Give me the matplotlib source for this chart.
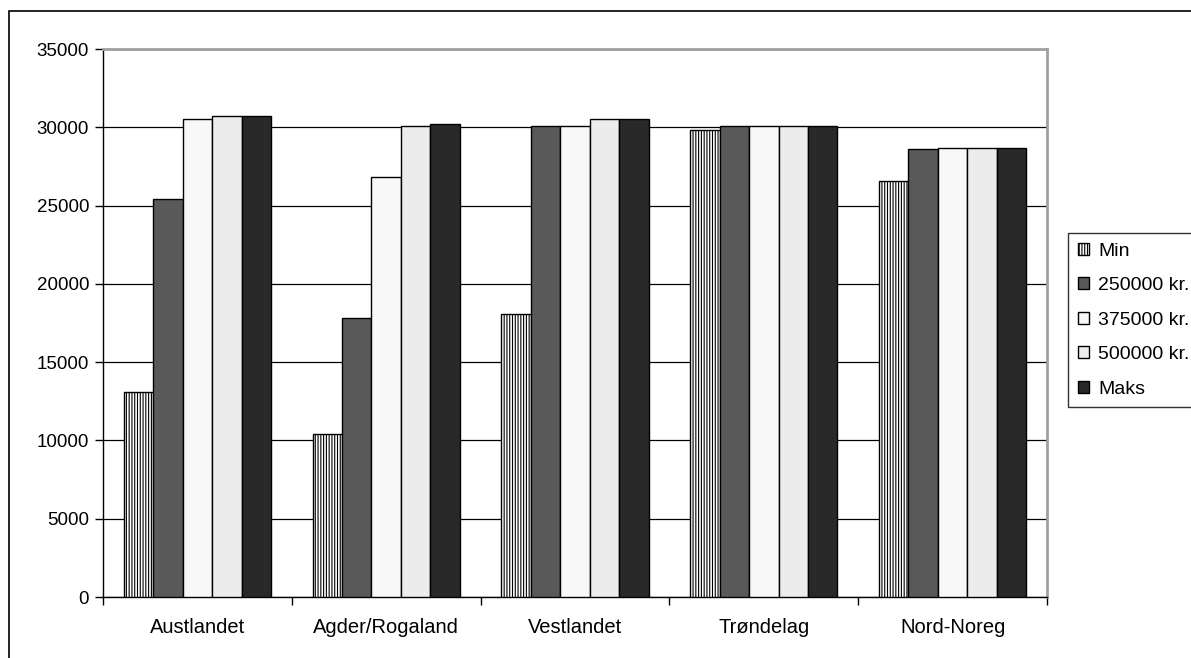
import matplotlib
matplotlib.use("Agg")
from matplotlib import pyplot as plt
from matplotlib.patches import Rectangle
import numpy as np

plt.rcParams['font.family'] = ['Liberation Sans', 'DejaVu Sans']
plt.rcParams['hatch.linewidth'] = 0.8

regions = ["Austlandet", "Agder/Rogaland", "Vestlandet", "Trøndelag", "Nord-Noreg"]
series_names = ["Min", "250000 kr.", "375000 kr.", "500000 kr.", "Maks"]
min_vals = [13100, 10400, 18100, 29800, 26600]
kr250 = [25400, 17800, 30100, 30100, 28600]
kr375 = [30500, 26800, 30100, 30100, 28700]
kr500 = [30700, 30100, 30500, 30100, 28700]
maks = [30700, 30200, 30500, 30100, 28700]
yticks = [0, 5000, 10000, 15000, 20000, 25000, 30000, 35000]

series = [min_vals, kr250, kr375, kr500, maks]
colors = ["white", "#595959", "#f8f8f8", "#ececec", "#292929"]
hatches = ["||||||", None, None, None, None]

fig = plt.figure(figsize=(11.91, 6.58), dpi=100)
ax = fig.add_axes([103/1191, 1-597/658, (1047-103)/1191, (597-49)/658])

x = np.arange(len(regions))
bw = 0.156
for i, (vals, c, h) in enumerate(zip(series, colors, hatches)):
    ax.bar(x + (i - 2) * bw, vals, bw, color=c, edgecolor="black", linewidth=1.0,
           hatch=h, label=series_names[i], zorder=3)

ax.set_xlim(-0.5, len(regions) - 0.5)
ax.set_ylim(0, 35000)
ax.set_yticks(yticks)
ax.set_yticklabels([str(v) for v in yticks], fontsize=13.5)
ax.yaxis.grid(True, color="black", linewidth=0.9, zorder=0)
ax.set_axisbelow(True)

ax.set_xticks(np.arange(len(regions) + 1) - 0.5)
ax.set_xticklabels([])
ax.set_xticks(x, minor=True)
ax.set_xticklabels(regions, minor=True, fontsize=14.5)
ax.tick_params(axis="x", which="minor", length=0, pad=15)
ax.tick_params(axis="x", which="major", length=6, direction="out", width=1)
ax.tick_params(axis="y", length=6, direction="out", width=1, pad=4)

for s in ["left", "bottom"]:
    ax.spines[s].set_color("black")
    ax.spines[s].set_linewidth(1)
for s in ["top", "right"]:
    ax.spines[s].set_color("#a0a0a0")
    ax.spines[s].set_linewidth(2)

leg = fig.legend(loc="upper left", bbox_to_anchor=(1068/1191, 1-233/658),
                 fontsize=14, frameon=True, fancybox=False, edgecolor="black",
                 handlelength=0.6, handleheight=0.55, handletextpad=0.45,
                 labelspacing=0.9, borderpad=0.5, borderaxespad=0)
leg.get_frame().set_linewidth(1)

fig.add_artist(Rectangle((9/1191, -0.1), 2, 1.1 - 11/658, transform=fig.transFigure,
                         fill=False, edgecolor="black", linewidth=1.2, clip_on=False))

plt.savefig("out.png", dpi=100)
